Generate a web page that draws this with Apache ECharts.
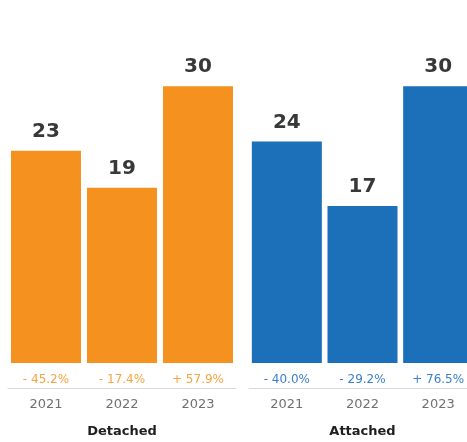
<!DOCTYPE html>
<html>
<head>
<meta charset="utf-8">
<script src="https://cdn.jsdelivr.net/npm/echarts@6/dist/echarts.min.js"></script>
<style>
  html, body { margin: 0; padding: 0; background: #fff; }
  #chart { width: 467px; height: 442px; }
</style>
</head>
<body>
<div id="chart"></div>
<script>
const years = ['2021', '2022', '2023']
const detached = [23, 19, 30]
const attached = [24, 17, 30]
const detachedChange = ['- 45.2%', '- 17.4%', '+ 57.9%']
const attachedChange = ['- 40.0%', '- 29.2%', '+ 76.5%']
const groups = ['Detached', 'Attached']

const ORANGE = '#f5911e'
const BLUE = '#1c6fb9'
const font = 'DejaVu Sans, Verdana, sans-serif'

const chart = echarts.init(document.getElementById('chart'))

function axesFor(gridIndex, changes, color, name) {
  return [
    {
      type: 'category', gridIndex, data: years, position: 'bottom',
      axisLine: { show: true, onZero: false, lineStyle: { color: '#d9d9d9', width: 1 } },
      axisTick: { show: false },
      axisLabel: { color: '#707070', fontSize: 13, fontFamily: font, margin: 10 },
      name, nameLocation: 'middle', nameGap: 37,
      nameTextStyle: { color: '#1e1e1e', fontSize: 13, fontWeight: 'bold', fontFamily: font }
    },
    {
      type: 'category', gridIndex, data: changes, position: 'bottom',
      axisLine: { show: false, onZero: false }, axisTick: { show: false },
      axisLabel: { inside: true, margin: 2, color, fontSize: 12, fontFamily: font }
    }
  ]
}

chart.setOption({
  animation: false,
  grid: [
    { left: 8, width: 228, top: 40, bottom: 54, outerBoundsMode: 'none' },
    { left: 249, width: 227, top: 40, bottom: 54, outerBoundsMode: 'none' }
  ],
  xAxis: [
    ...axesFor(0, detachedChange, '#f7a441', groups[0]),
    ...axesFor(1, attachedChange, '#3b7fc8', groups[1])
  ],
  yAxis: [0, 1].map((i) => ({
    type: 'value', gridIndex: i, min: -2.71, max: 35,
    show: false, splitLine: { show: false }
  })),
  series: [
    { data: detached, color: ORANGE, xAxisIndex: 0, yAxisIndex: 0 },
    { data: attached, color: BLUE, xAxisIndex: 2, yAxisIndex: 1 }
  ].map((s) => ({
    type: 'bar',
    barWidth: 70,
    data: s.data,
    xAxisIndex: s.xAxisIndex,
    yAxisIndex: s.yAxisIndex,
    itemStyle: { color: s.color },
    label: {
      show: true, position: 'top', distance: 9,
      color: '#383838', fontSize: 20, fontWeight: 'bold', fontFamily: font
    }
  }))
})
</script>
</body>
</html>
